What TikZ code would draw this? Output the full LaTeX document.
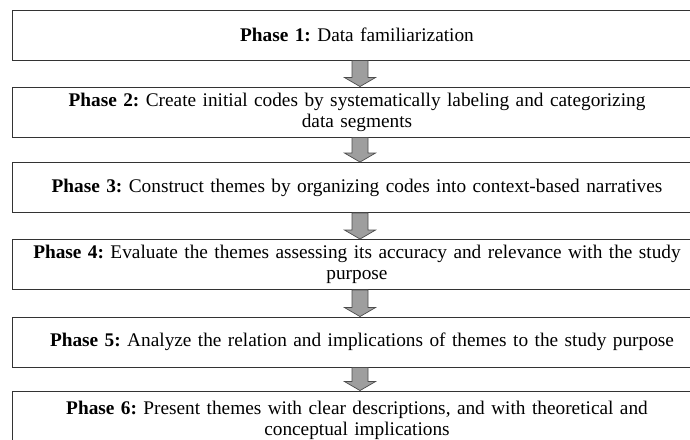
\documentclass[tikz,border=0pt]{standalone}
\usepackage{fontspec}
\setmainfont{Liberation Serif}
\usetikzlibrary{calc}
\begin{document}
\frenchspacing
\begin{tikzpicture}[x=1pt,y=1pt,
  phasebox/.style={draw=black!80, line width=0.9pt, fill=white, minimum width=690pt, minimum height=50pt,
    text width=665pt, align=center, inner sep=0pt, font=\fontsize{19.3}{21}\selectfont},
  barrow/.style={draw=black!70, line width=0.7pt, fill=black!38, line join=miter}]
\useasboundingbox (0,0) rectangle (690,-439);
\coordinate (axis) at (360,0);
\node[phasebox] (b1) at (357,-35) {\textbf{Phase 1:} Data familiarization};
\node[phasebox] (b2) at (357,-112) {\textbf{Phase 2:} Create initial codes by systematically labeling and categorizing\\ data segments};
\node[phasebox] (b3) at (357,-187.5) {\textbf{Phase 3:} Construct themes by organizing codes into context-based narratives};
\node[phasebox] (b4) at (357,-264.5) {\textbf{Phase 4:} Evaluate the themes assessing its accuracy and relevance with the study\\ purpose};
\node[phasebox] (b5) at (357,-342) {\hspace*{10pt}\textbf{Phase 5:} Analyze the relation and implications of themes to the study purpose};
\node[phasebox, minimum height=58pt] (b6) at (357,-420) {\textbf{Phase 6:} Present themes with clear descriptions, and with theoretical and\\ conceptual implications};
\foreach \a/\b in {b1/b2,b2/b3,b3/b4,b4/b5,b5/b6}{
  \coordinate (s) at (\a.south -| axis);
  \coordinate (e) at (\b.north -| axis);
  \draw[barrow] ($(s)+(-8,0)$) -- ($(e)+(-8,9)$) -- ($(e)+(-15.5,9)$) -- (e) -- ($(e)+(15.5,9)$) -- ($(e)+(8,9)$) -- ($(s)+(8,0)$) -- cycle;
}
\end{tikzpicture}
\end{document}
